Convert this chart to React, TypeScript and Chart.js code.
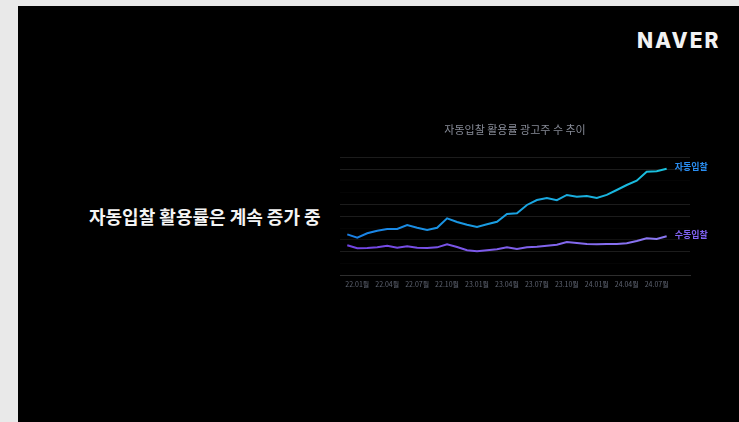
import React, { useEffect, useRef } from "react";
import { Chart, registerables } from "chart.js";

Chart.register(...registerables);

const months = [
  "21.12",
  "22.01", "22.02", "22.03", "22.04", "22.05", "22.06", "22.07", "22.08", "22.09", "22.10", "22.11", "22.12",
  "23.01", "23.02", "23.03", "23.04", "23.05", "23.06", "23.07", "23.08", "23.09", "23.10", "23.11", "23.12",
  "24.01", "24.02", "24.03", "24.04", "24.05", "24.06", "24.07", "24.08",
];

const tickMonths = ["22.01", "22.04", "22.07", "22.10", "23.01", "23.04", "23.07", "23.10", "24.01", "24.04", "24.07"];

const autoBid = [
  34.7, 31.9, 35.6, 37.8, 39.2, 39.2, 42.6, 40.3, 38.4, 40.3, 48.3, 45.2, 42.9,
  40.9, 43.2, 45.4, 51.9, 52.5, 59.6, 63.8, 65.5, 63.6, 68.1, 66.6, 67.2,
  65.5, 68.1, 72.3, 76.5, 80.2, 87.8, 88.1, 90.3,
];

const manualBid = [
  25.4, 22.9, 23.1, 23.7, 25.1, 23.4, 24.6, 23.4, 23.1, 23.7, 26.3, 24.0, 21.2,
  20.3, 21.2, 22.0, 23.8, 22.3, 23.7, 24.2, 25.1, 25.9, 28.2, 27.4, 26.5,
  26.3, 26.5, 26.5, 27.1, 29.1, 31.4, 30.8, 33.1,
];

const seriesNames = ["자동입찰", "수동입찰"];
const chartTitle = "자동입찰 활용률 광고주 수 추이";
const headline = "자동입찰 활용률은 계속 증가 중";

const KR = '"Noto Sans CJK KR", "Noto Sans", sans-serif';

function gradient(chart: any, from: string, to: string, fallback: string) {
  const area = chart.chartArea;
  if (!area) return fallback;
  const g = chart.ctx.createLinearGradient(area.left, 0, area.right, 0);
  g.addColorStop(0, from);
  g.addColorStop(1, to);
  return g;
}

const endLabels = {
  id: "endLabels",
  afterDatasetsDraw(chart: any) {
    const ctx = chart.ctx;
    chart.data.datasets.forEach((ds: any, i: number) => {
      const meta = chart.getDatasetMeta(i);
      const pt = meta.data[meta.data.length - 1];
      if (!pt) return;
      ctx.save();
      ctx.font = `bold 9px ${KR}`;
      ctx.fillStyle = ds.labelColor;
      ctx.textBaseline = "middle";
      ctx.textAlign = "left";
      ctx.fillText(ds.label, pt.x + 8, pt.y - 2);
      ctx.restore();
    });
  },
};

function LineChart() {
  const ref = useRef<HTMLCanvasElement | null>(null);
  useEffect(() => {
    if (!ref.current) return;
    const visibleGrid = [100, 90, 60, 50, 20];
    const chart = new Chart(ref.current, {
      type: "line",
      data: {
        datasets: [
          {
            label: seriesNames[0],
            data: autoBid.map((y, i) => ({ x: i, y })),
            borderColor: (c: any) => gradient(c.chart, "#1a7ee6", "#19c6dc", "#1a9be0"),
            borderWidth: 2,
            pointRadius: 0,
            tension: 0,
            labelColor: "#2a8ef2",
          } as any,
          {
            label: seriesNames[1],
            data: manualBid.map((y, i) => ({ x: i, y })),
            borderColor: (c: any) => gradient(c.chart, "#7142e2", "#8c7cf4", "#7b5cf0"),
            borderWidth: 2,
            pointRadius: 0,
            tension: 0,
            labelColor: "#8163f2",
          } as any,
        ],
      },
      options: {
        animation: false,
        responsive: false,
        layout: { padding: { left: 40, right: 40, top: 0, bottom: 4.7 } },
        plugins: {
          legend: { display: false },
          tooltip: { enabled: false },
          title: {
            display: true,
            text: chartTitle,
            color: "#878b97",
            font: { family: KR, size: 11, weight: "normal", lineHeight: 1.2 },
            padding: { top: 23.4, bottom: 20.7 },
          },
        },
        scales: {
          x: {
            type: "linear",
            min: -0.73,
            max: 34.34,
            grid: { display: false, drawTicks: false },
            border: { display: true, color: "#2e2e2e", width: 1 },
            afterBuildTicks: (scale: any) => {
              scale.ticks = tickMonths.map((m) => ({ value: months.indexOf(m) }));
            },
            afterFit: (scale: any) => {
              scale.height = 30;
            },
            ticks: {
              color: "#5f6472",
              font: { family: KR, size: 7 },
              padding: 5,
              maxRotation: 0,
              autoSkip: false,
              callback: (v: any) => `${months[Math.round(Number(v))]}월`,
            },
          },
          y: {
            min: 0,
            max: 100,
            grid: {
              drawTicks: false,
              color: (c: any) => {
                const v = c.tick ? c.tick.value : -1;
                if (visibleGrid.includes(v)) return "#1c1c1c";
                if (v === 30) return "#111111";
                return "#050505";
              },
            },
            border: { display: false },
            afterFit: (scale: any) => {
              scale.width = 0;
            },
            ticks: { display: false, stepSize: 10 },
          },
        },
      } as any,
      plugins: [endLabels],
    });
    return () => chart.destroy();
  }, []);
  return (
    <canvas
      ref={ref}
      width={430}
      height={210}
      style={{ position: "absolute", left: 300, top: 100, width: 430, height: 210 }}
    />
  );
}

export default function App() {
  return (
    <div style={{ position: "fixed", left: 0, top: 0, right: 0, bottom: 0, background: "#e9e9e9", overflow: "hidden" }}>
      <div style={{ position: "absolute", left: 18, top: 6, right: 0, bottom: 0, background: "#000" }} />
      <div
        style={{
          position: "absolute",
          left: 637,
          top: 28,
          fontFamily: "Inter, 'Liberation Sans', sans-serif",
          fontWeight: 800,
          fontSize: 21,
          lineHeight: "26px",
          letterSpacing: "2px",
          color: "#f2f2f2",
        }}
      >
        NAVER
      </div>
      <div
        style={{
          position: "absolute",
          left: 89,
          top: 205,
          fontFamily: KR,
          fontWeight: 700,
          fontSize: 18,
          lineHeight: "22px",
          color: "#f4f4f4",
          whiteSpace: "nowrap",
        }}
      >
        {headline}
      </div>
      <LineChart />
    </div>
  );
}
